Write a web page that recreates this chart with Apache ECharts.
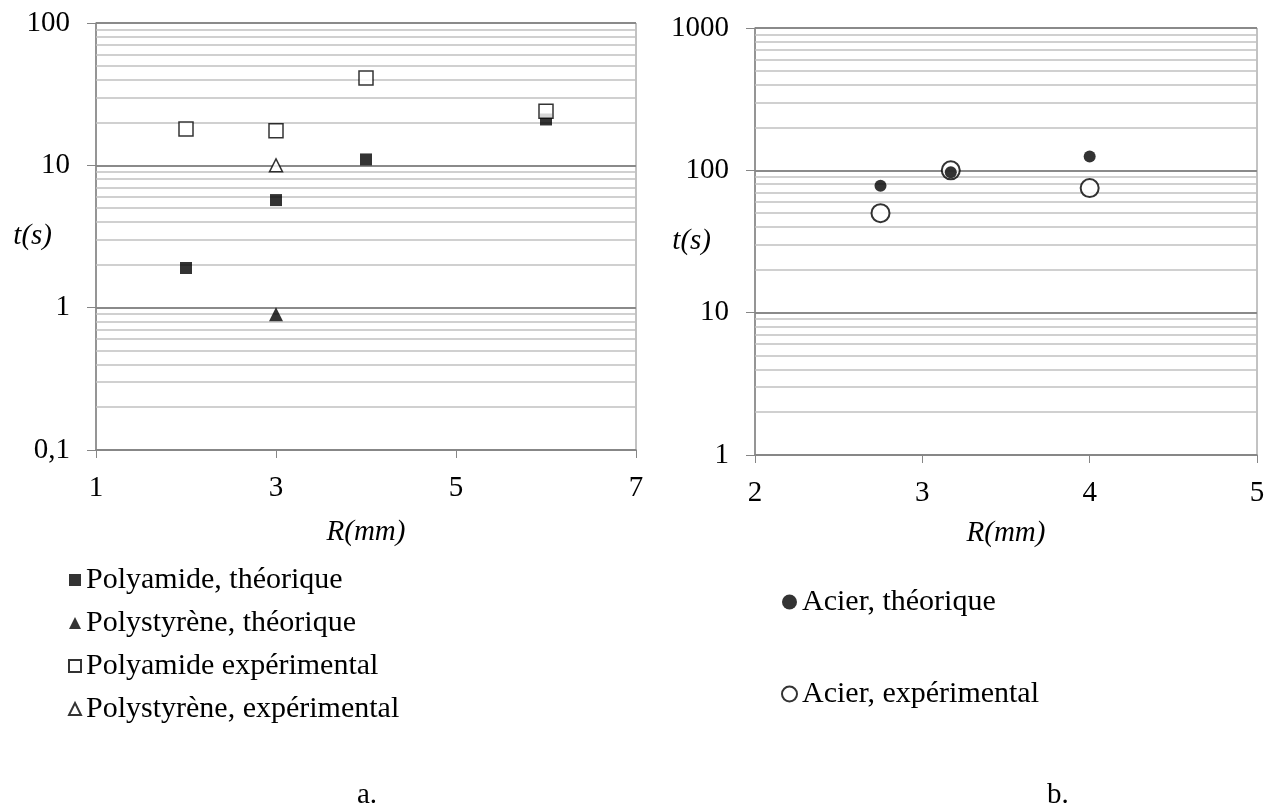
<!DOCTYPE html>
<html>
<head>
<meta charset="utf-8">
<script src="https://cdn.jsdelivr.net/npm/echarts@6/dist/echarts.min.js"></script>
<style>
  html, body { margin: 0; padding: 0; background: #fff; }
  #chart { width: 1273px; height: 811px; }
</style>
</head>
<body>
<div id="chart"></div>
<script>
// a. polymères
var paTheoX = [2, 3, 4, 6];
var paTheoY = [1.9, 5.7, 11, 21];
var psTheoX = [3];
var psTheoY = [0.9];
var paExpX = [2, 3, 4, 6];
var paExpY = [18, 17.5, 41, 24];
var psExpX = [3];
var psExpY = [10];

// b. acier
var acTheoX = [2.75, 3.17, 4];
var acTheoY = [78, 97, 125];
var acExpX = [2.75, 3.17, 4];
var acExpY = [50, 100, 75];

var FONT = 'Liberation Serif';

function pairs(xs, ys) {
    return xs.map(function (x, i) { return [x, ys[i]]; });
}

// lignes secondaires du quadrillage log (2..9 dans chaque décade)
function minors(min, max) {
    var out = [];
    for (var d = min; d < max * 0.99; d *= 10) {
        for (var k = 2; k <= 9; k++) out.push({yAxis: +(d * k).toPrecision(3)});
    }
    return out;
}

function gridSeries(idx, min, max) {
    return {
        type: 'scatter', xAxisIndex: idx, yAxisIndex: idx, data: [], z: 1, silent: true,
        markLine: {
            z: 1,
            silent: true,
            symbol: ['none', 'none'],
            label: {show: false},
            emphasis: {disabled: true},
            animation: false,
            lineStyle: {color: '#c0c0c0', width: 1.5, type: 'solid'},
            data: minors(min, max)
        }
    };
}

function fmt(v) {
    return String(Math.round(v * 1000) / 1000).replace('.', ',');
}

var myChart = echarts.init(document.getElementById('chart'));

var xAxisBase = {
    type: 'value',
    axisLine: {lineStyle: {color: '#868686', width: 1.5}},
    axisTick: {show: true, length: 8, lineStyle: {color: '#868686'}},
    splitLine: {show: false},
    axisLabel: {color: '#000', fontFamily: FONT, fontSize: 29, margin: 24},
    nameLocation: 'middle',
    nameMoveOverlap: false,
    nameTextStyle: {color: '#000', fontFamily: FONT, fontSize: 29, fontStyle: 'italic'}
};
var yAxisBase = {
    type: 'log',
    logBase: 10,
    axisLine: {show: true, lineStyle: {color: '#868686', width: 1.5}},
    axisTick: {show: true, inside: false, length: 9, lineStyle: {color: '#868686'}},
    splitLine: {show: true, lineStyle: {color: '#8a8a8a', width: 2}},
    axisLabel: {color: '#000', fontFamily: FONT, fontSize: 29, margin: 26, formatter: fmt},
    nameLocation: 'middle',
    nameRotate: 0,
    nameMoveOverlap: false,
    nameTextStyle: {color: '#000', fontFamily: FONT, fontSize: 29, fontStyle: 'italic'}
};

myChart.setOption({
    animation: false,
    textStyle: {fontFamily: FONT},
    grid: [
        {left: 96, top: 23, width: 540, height: 427, show: true, borderColor: '#868686', borderWidth: 1,
            containLabel: false, outerBoundsMode: 'none'},
        {left: 755, top: 28, width: 502, height: 427, show: true, borderColor: '#868686', borderWidth: 1,
            containLabel: false, outerBoundsMode: 'none'}
    ],
    xAxis: [
        Object.assign({}, xAxisBase, {gridIndex: 0, min: 1, max: 7, interval: 2, name: 'R(mm)', nameGap: 68}),
        Object.assign({}, xAxisBase, {gridIndex: 1, min: 2, max: 5, interval: 1, name: 'R(mm)', nameGap: 64})
    ],
    yAxis: [
        Object.assign({}, yAxisBase, {gridIndex: 0, min: 0.1, max: 100, name: 't(s)', nameGap: 44}),
        Object.assign({}, yAxisBase, {gridIndex: 1, min: 1, max: 1000, name: 't(s)', nameGap: 44})
    ],
    legend: [
        {
            data: ['Polyamide, théorique', 'Polystyrène, théorique', 'Polyamide expérimental', 'Polystyrène, expérimental'],
            orient: 'vertical', left: 63, top: 560, itemGap: 13, itemWidth: 12, itemHeight: 12,
            textStyle: {color: '#000', fontFamily: FONT, fontSize: 30}
        },
        {
            data: ['Acier, théorique', 'Acier, expérimental'],
            orient: 'vertical', left: 776, top: 582, itemGap: 62, itemWidth: 15, itemHeight: 15,
            textStyle: {color: '#000', fontFamily: FONT, fontSize: 30}
        }
    ],
    title: [
        {text: 'a.', left: 352, top: 776, textStyle: {color: '#000', fontFamily: FONT, fontSize: 29, fontWeight: 'normal'}},
        {text: 'b.', left: 1042, top: 776, textStyle: {color: '#000', fontFamily: FONT, fontSize: 29, fontWeight: 'normal'}}
    ],
    series: [
        gridSeries(0, 0.1, 100),
        gridSeries(1, 1, 1000),
        {
            name: 'Polyamide, théorique', type: 'scatter', xAxisIndex: 0, yAxisIndex: 0,
            symbol: 'rect', symbolSize: 12, itemStyle: {color: '#000'},
            data: pairs(paTheoX, paTheoY), z: 3
        },
        {
            name: 'Polystyrène, théorique', type: 'scatter', xAxisIndex: 0, yAxisIndex: 0,
            symbol: 'triangle', symbolSize: 14, itemStyle: {color: '#000'},
            data: pairs(psTheoX, psTheoY), z: 3
        },
        {
            name: 'Polyamide expérimental', type: 'scatter', xAxisIndex: 0, yAxisIndex: 0,
            symbol: 'rect', symbolSize: 14, itemStyle: {color: '#fff', borderColor: '#000', borderWidth: 1.5},
            data: pairs(paExpX, paExpY), z: 3
        },
        {
            name: 'Polystyrène, expérimental', type: 'scatter', xAxisIndex: 0, yAxisIndex: 0,
            symbol: 'triangle', symbolSize: 13, itemStyle: {color: '#fff', borderColor: '#000', borderWidth: 1.5},
            data: pairs(psExpX, psExpY), z: 3
        },
        {
            name: 'Acier, expérimental', type: 'scatter', xAxisIndex: 1, yAxisIndex: 1,
            symbol: 'circle', symbolSize: 18, itemStyle: {color: '#fff', borderColor: '#000', borderWidth: 2},
            data: pairs(acExpX, acExpY), z: 3
        },
        {
            name: 'Acier, théorique', type: 'scatter', xAxisIndex: 1, yAxisIndex: 1,
            symbol: 'circle', symbolSize: 12, itemStyle: {color: '#000'},
            data: pairs(acTheoX, acTheoY), z: 4
        }
    ]
});
</script>
</body>
</html>
